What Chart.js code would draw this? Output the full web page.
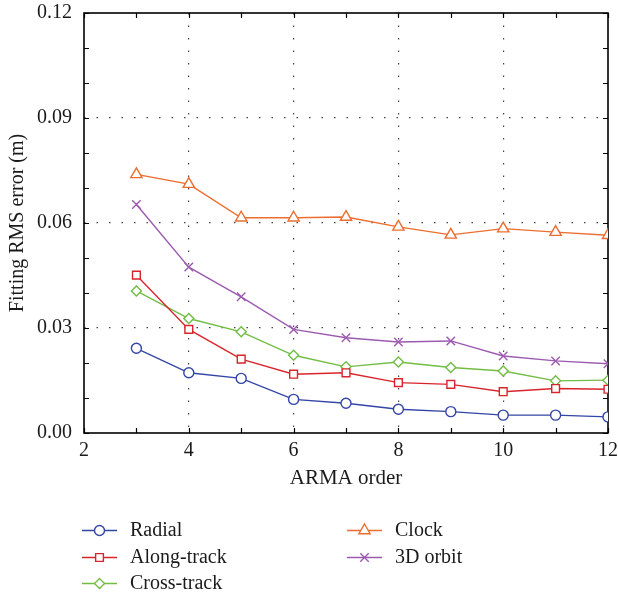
<!DOCTYPE html>
<html>
<head>
<meta charset="utf-8">
<script src="https://cdn.jsdelivr.net/npm/chart.js@4.4.1/dist/chart.umd.min.js"></script>
<style>
  html, body { margin: 0; padding: 0; background: #fff; }
  #wrap { width: 618px; height: 597px; }
</style>
</head>
<body>
<div id="wrap"><canvas id="rmsChart" width="618" height="597"></canvas></div>
<script>
// ARMA model order vs fitting RMS error (m)
const orders = [3, 4, 5, 6, 7, 8, 9, 10, 11, 12];
const radial = [0.0242, 0.0172, 0.0156, 0.0096, 0.0085, 0.0068, 0.0061, 0.0051, 0.0051, 0.0046];
const alongTrack = [0.0451, 0.0296, 0.0211, 0.0168, 0.0172, 0.0144, 0.0139, 0.0118, 0.0127, 0.0125];
const crossTrack = [0.0406, 0.0327, 0.0289, 0.0222, 0.0189, 0.0203, 0.0187, 0.0177, 0.0149, 0.0151];
const clock = [0.0739, 0.0711, 0.0615, 0.0615, 0.0617, 0.0589, 0.0566, 0.0584, 0.0574, 0.0565];
const orbit3d = [0.0653, 0.0474, 0.0389, 0.0296, 0.0272, 0.0260, 0.0263, 0.0220, 0.0206, 0.0198];

const xTicks = [2, 4, 6, 8, 10, 12];
const yTicks = [0.00, 0.03, 0.06, 0.09, 0.12];

const FONT = '"Liberation Serif", "DejaVu Serif", serif';

function series(label, values, color, style, radius) {
	return {
		label: label,
		data: orders.map((x, i) => ({ x: x, y: values[i] })),
		borderColor: color,
		backgroundColor: color,
		borderWidth: 1.4,
		pointStyle: style,
		pointRadius: radius,
		pointHoverRadius: radius,
		pointBorderColor: color,
		pointBackgroundColor: '#ffffff',
		pointBorderWidth: 1.4,
		tension: 0
	};
}

// legend slots: [column x of line start, row y]
const legendSlots = [[82, 530], [82, 557], [82, 583], [347, 530], [347, 557]];

const frameAndTicks = {
	id: 'frameAndTicks',
	beforeDatasetsDraw(chart) {
		const { ctx, chartArea: a, scales } = chart;
		ctx.save();
		ctx.strokeStyle = '#000';
		ctx.lineWidth = 1.2;
		// inside ticks on all four sides
		for (let v = 2; v <= 12; v++) {
			const px = Math.round(scales.x.getPixelForValue(v)) + 0.5;
			ctx.beginPath();
			ctx.moveTo(px, a.bottom); ctx.lineTo(px, a.bottom - 5);
			ctx.moveTo(px, a.top); ctx.lineTo(px, a.top + 5);
			ctx.stroke();
		}
		for (let k = 0; k <= 12; k++) {
			const py = Math.round(scales.y.getPixelForValue(k / 100)) + 0.5;
			ctx.beginPath();
			ctx.moveTo(a.left, py); ctx.lineTo(a.left + 5, py);
			ctx.moveTo(a.right, py); ctx.lineTo(a.right - 5, py);
			ctx.stroke();
		}
		ctx.lineWidth = 1.6;
		ctx.strokeRect(a.left, a.top, a.right - a.left, a.bottom - a.top);
		ctx.restore();
	}
};

const sideLegend = {
	id: 'sideLegend',
	afterDraw(chart) {
		const ctx = chart.ctx;
		ctx.save();
		ctx.font = '20px ' + FONT;
		ctx.textBaseline = 'middle';
		chart.data.datasets.forEach((ds, i) => {
			const [x0, y] = legendSlots[i];
			ctx.strokeStyle = ds.borderColor;
			ctx.lineWidth = 1.4;
			ctx.beginPath();
			ctx.moveTo(x0, y + 0.5); ctx.lineTo(x0 + 35, y + 0.5);
			ctx.stroke();
			ctx.fillStyle = '#fff';
			Chart.helpers.drawPoint(ctx, {
				pointStyle: ds.pointStyle,
				radius: ds.pointRadius,
				borderWidth: 1.4
			}, x0 + 17.5, y + 0.5);
			ctx.fillStyle = '#1a1a1a';
			ctx.fillText(ds.label, x0 + 48, y + 1);
		});
		ctx.restore();
	}
};

new Chart(document.getElementById('rmsChart'), {
	type: 'line',
	plugins: [frameAndTicks, sideLegend],
	data: {
		datasets: [
			series('Radial', radial, '#3345a6', 'circle', 5),
			series('Along-track', alongTrack, '#d8252c', 'rect', 5.5),
			series('Cross-track', crossTrack, '#72bd44', 'rectRot', 5),
			series('Clock', clock, '#ec6d2f', 'triangle', 6.5),
			series('3D orbit', orbit3d, '#9c5bb0', 'crossRot', 6)
		]
	},
	options: {
		responsive: false,
		animation: false,
		layout: { autoPadding: false, padding: { left: 0, top: 13, right: 10, bottom: 104 } },
		plugins: {
			legend: { display: false },
			tooltip: { enabled: false }
		},
		scales: {
			x: {
				type: 'linear',
				min: 2,
				max: 12,
				afterFit(scale) {
					scale.height = 60;
					scale.paddingLeft = 0;
					scale.paddingRight = 0;
				},
				afterBuildTicks(scale) { scale.ticks = xTicks.map(v => ({ value: v })); },
				ticks: {
					padding: 6,
					color: '#1a1a1a',
					font: { family: FONT, size: 20 }
				},
				grid: {
					drawTicks: false,
					color: ctx => (ctx.tick && ctx.tick.value > 2 && ctx.tick.value < 12) ? '#444' : 'rgba(0,0,0,0)',
					lineWidth: 1.2
				},
				border: { display: false, dash: [1.5, 11] },
				title: {
					display: true,
					text: 'ARMA order',
					color: '#1a1a1a',
					font: { family: FONT, size: 21 },
					padding: { top: 0, bottom: 2 }
				}
			},
			y: {
				min: 0,
				max: 0.12,
				afterFit(scale) {
					scale.width = 84;
					scale.paddingTop = 0;
					scale.paddingBottom = 0;
				},
				afterBuildTicks(scale) { scale.ticks = yTicks.map(v => ({ value: v })); },
				ticks: {
					padding: 12,
					color: '#1a1a1a',
					font: { family: FONT, size: 20 },
					callback: v => v.toFixed(2)
				},
				grid: {
					drawTicks: false,
					color: ctx => (ctx.tick && ctx.tick.value > 0.001 && ctx.tick.value < 0.119) ? '#444' : 'rgba(0,0,0,0)',
					lineWidth: 1.2
				},
				border: { display: false, dash: [1.5, 11] },
				title: {
					display: true,
					text: 'Fitting RMS error (m)',
					color: '#1a1a1a',
					font: { family: FONT, size: 20 },
					padding: { top: 6, bottom: 0 }
				}
			}
		}
	}
});
</script>
</body>
</html>
